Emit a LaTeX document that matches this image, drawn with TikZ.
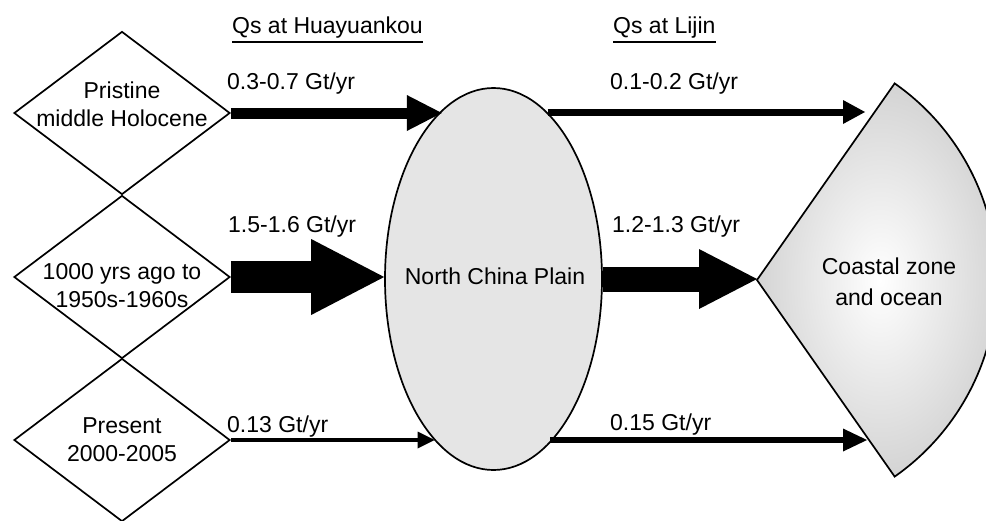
\documentclass[tikz,border=0pt]{standalone}
\usepackage{fontspec}
\setmainfont{Liberation Sans}
\usetikzlibrary{shapes.geometric,arrows.meta,calc}

\tikzset{
  outline/.style={draw=black, line width=1.7pt},
  period/.style={diamond, outline, minimum width=216pt, minimum height=163pt, inner sep=0pt},
  plain/.style={ellipse, outline, fill=black!10, minimum width=217pt, minimum height=382pt, inner sep=0pt},
  txt/.style={inner sep=0pt, align=center, font=\fontsize{23}{28}\selectfont},
  rate/.style={inner sep=0pt, anchor=base west, font=\fontsize{23}{28}\selectfont},
  head/.style={inner sep=0pt, anchor=base west, font=\fontsize{23}{28}\selectfont},
  flux/.style n args={3}{draw=black, line width=#1,
    -{Triangle[length=#2, width=#3, line width=0pt]}},
}

\begin{document}
\begin{tikzpicture}[x=1pt, y=-1pt]
  \useasboundingbox (0,0) rectangle (986,520);

  % time periods
  \node[period] (d1) at (122,113) {};
  \node[period] (d2) at (122,277) {};
  \node[period] (d3) at (122,440) {};
  \node[txt] (t1) at (122,104) {Pristine\\middle Holocene};
  \node[txt] (t2) at (122,285.5) {1000 yrs ago to\\1950s-1960s};
  \node[txt] (t3) at (122,440) {Present\\2000-2005};

  % floodplain
  \node[plain] (np) at (493.5,279) {};
  \node[txt] (npt) at (495,276) {North China Plain};

  % coastal sector
  \coordinate (sea) at (757,280);
  \shadedraw[line width=1.7pt, inner color=white, outer color=black!17]
    (sea) -- ([shift={(55:240pt)}]sea)
    arc[start angle=55, end angle=-55, radius=240pt] -- cycle;
  \node[txt, font=\fontsize{23}{31}\selectfont] (seat) at (889,282) {Coastal zone\\and ocean};
  \coordinate (sea-in1) at (865,112);
  \coordinate (sea-in3) at (867,440);

  % column headers
  \node[head] (h1) at (232,33) {Qs at Huayuankou};
  \node[head] (h2) at (613,33) {Qs at Lijin};
  \draw[line width=1.5pt] ([yshift=-9pt]h1.base west) -- ([yshift=-9pt]h1.base east);
  \draw[line width=1.5pt] ([yshift=-9pt]h2.base west) -- ([yshift=-9pt]h2.base east);

  % sediment fluxes into the plain
  \draw[flux={11pt}{35pt}{36pt}] (d1.east) -- (d1.east -| np.107.9);
  \draw[flux={32pt}{73pt}{76pt}] (d2.east) -- (d2.east -| np.west);
  \draw[flux={3.5pt}{17pt}{17pt}] (d3.east) -- (d3.east -| np.250.1);

  % sediment fluxes to the sea
  \draw[flux={7pt}{22pt}{24pt}] (np.72.1 |- sea-in1) -- (sea-in1);
  \draw[flux={25pt}{58pt}{60pt}] (np.east) -- (np.east -| sea);
  \draw[flux={5.5pt}{24pt}{23pt}] (np.289.9 |- sea-in3) -- (sea-in3);

  % flux labels
  \node[rate] (r1) at (227,89) {0.3-0.7 Gt/yr};
  \node[rate] (r2) at (228,232) {1.5-1.6 Gt/yr};
  \node[rate] (r3) at (227,432) {0.13 Gt/yr};
  \node[rate] (r4) at (610,89) {0.1-0.2 Gt/yr};
  \node[rate] (r5) at (612,232) {1.2-1.3 Gt/yr};
  \node[rate] (r6) at (610,430) {0.15 Gt/yr};
\end{tikzpicture}
\end{document}
